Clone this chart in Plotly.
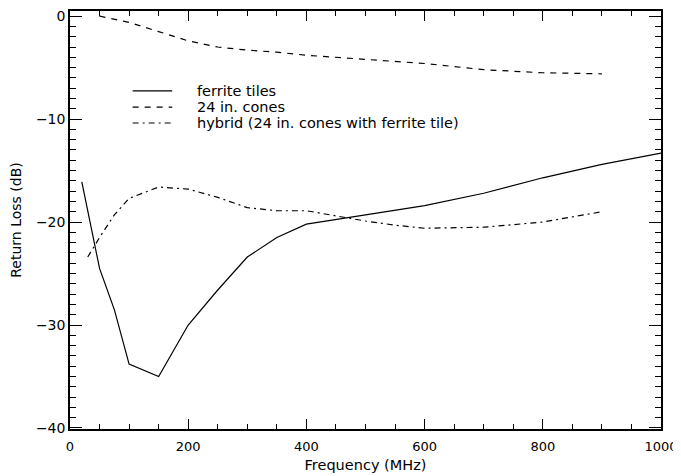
import plotly.graph_objects as go

# Data
ferrite_freq = [20, 50, 75, 100, 150, 200, 250, 300, 350, 400, 500, 600, 700, 800, 900, 1000]
ferrite_db = [-16.1, -24.5, -28.5, -33.8, -35.0, -30.0, -26.6, -23.4, -21.5, -20.2, -19.3, -18.4, -17.2, -15.7, -14.4, -13.3]

cones_freq = [50, 100, 150, 200, 250, 300, 350, 400, 500, 600, 700, 800, 900]
cones_db = [0.0, -0.6, -1.5, -2.4, -3.0, -3.3, -3.5, -3.8, -4.2, -4.6, -5.2, -5.5, -5.6]

hybrid_freq = [30, 50, 75, 100, 150, 200, 250, 300, 350, 400, 450, 500, 550, 600, 700, 800, 900]
hybrid_db = [-23.4, -21.5, -19.3, -17.7, -16.6, -16.8, -17.6, -18.6, -18.9, -18.9, -19.4, -19.9, -20.3, -20.6, -20.5, -20.0, -19.0]

series_names = ["ferrite tiles", "24 in. cones", "hybrid (24 in. cones with ferrite tile)"]
x_ticks = [0, 200, 400, 600, 800, 1000]
y_ticks = [-40, -30, -20, -10, 0]

font_family = "DejaVu Sans"
line_width = 1.2
dashes = ["solid", "6px,6px", "6px,4px,2px,4px"]

fig = go.Figure()
for fx, fy, name, dash in zip([ferrite_freq, cones_freq, hybrid_freq],
                              [ferrite_db, cones_db, hybrid_db],
                              series_names, dashes):
    fig.add_trace(go.Scatter(x=fx, y=fy, mode="lines", name=name, showlegend=False,
                             line=dict(color="black", width=line_width, dash=dash)))

# Hand-built legend (tighter row spacing than Plotly's own legend)
legend_rows_y = [0.809, 0.770, 0.732]
for name, dash, ly in zip(series_names, dashes, legend_rows_y):
    fig.add_shape(type="line", xref="paper", yref="paper", x0=0.106, x1=0.173, y0=ly, y1=ly,
                  line=dict(color="black", width=line_width, dash=dash))
    fig.add_annotation(xref="paper", yref="paper", x=0.211, y=ly, text=name, showarrow=False,
                       xanchor="left", yanchor="middle", font=dict(size=14.5, family=font_family))

# The page body has an 8px default margin, so the figure is sized 8px smaller
fig.update_layout(
    template="none",
    width=673, height=468,
    margin=dict(l=62, r=20, t=3, b=47, autoexpand=False),
    paper_bgcolor="white", plot_bgcolor="white",
    font=dict(family=font_family, size=14, color="black"),
    showlegend=False,
    xaxis=dict(range=[0, 1000], tickvals=x_ticks, ticks="inside", ticklen=10,
               tickwidth=1.2, tickcolor="black", showline=True, linecolor="black",
               linewidth=1.5, mirror="allticks", showgrid=False, zeroline=False,
               ticklabeloverflow="allow", automargin=False, tickfont=dict(size=13),
               ticklabelstandoff=5,
               minor=dict(dtick=50, ticks="inside", ticklen=5, tickwidth=1, tickcolor="black", showgrid=False),
               title=dict(text="Frequency (MHz)", font=dict(size=14.5), standoff=7)),
    yaxis=dict(range=[-40.1, 0.5], tickvals=y_ticks, ticks="inside", ticklen=12,
               tickwidth=1.2, tickcolor="black", showline=True, linecolor="black",
               linewidth=1.5, mirror="allticks", showgrid=False, zeroline=False,
               ticklabeloverflow="allow", automargin=False,
               minor=dict(dtick=1, ticks="inside", ticklen=6, tickwidth=1, tickcolor="black", showgrid=False),
               title=dict(text="Return Loss (dB)", font=dict(size=14), standoff=28)),
)

fig.write_html("out.html")
